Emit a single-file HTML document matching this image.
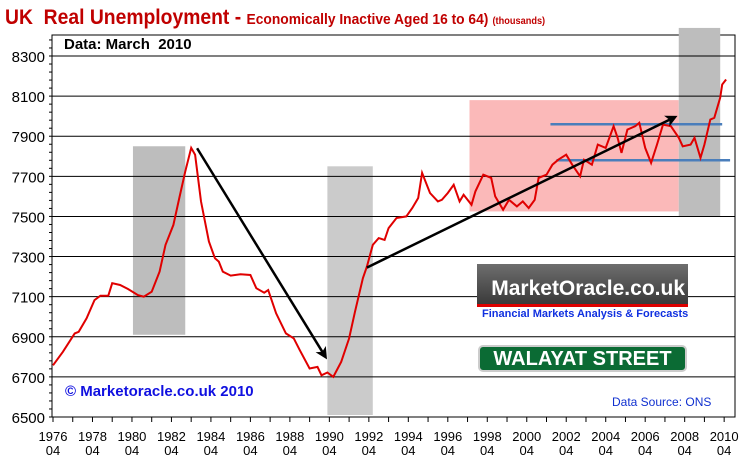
<!DOCTYPE html>
<html><head><meta charset="utf-8"><style>
body{margin:0;background:#fff;width:744px;height:465px;overflow:hidden}
svg{display:block;font-family:"Liberation Sans",sans-serif}
</style></head><body>
<svg id="c" width="744" height="465"></svg>
<script>
const years=[1976.0,1976.5,1977.1,1977.3,1977.7,1978.1,1978.4,1978.8,1979.0,1979.4,1979.8,1980.3,1980.6,1981.0,1981.4,1981.7,1982.1,1982.4,1982.7,1983.0,1983.2,1983.5,1983.9,1984.2,1984.4,1984.6,1985.0,1985.5,1986.0,1986.3,1986.7,1986.9,1987.3,1987.8,1988.2,1988.5,1989.0,1989.4,1989.6,1989.9,1990.2,1990.6,1991.0,1991.3,1991.7,1991.9,1992.2,1992.5,1992.8,1993.0,1993.4,1993.9,1994.2,1994.5,1994.7,1995.1,1995.5,1995.7,1996.0,1996.3,1996.6,1996.8,1997.2,1997.4,1997.8,1998.2,1998.4,1998.8,1999.1,1999.5,1999.8,2000.1,2000.4,2000.6,2001.0,2001.3,2001.6,2002.0,2002.3,2002.7,2002.9,2003.3,2003.6,2004.0,2004.4,2004.6,2004.8,2005.1,2005.5,2005.7,2006.0,2006.3,2006.6,2006.9,2007.3,2007.7,2007.9,2008.3,2008.5,2008.8,2009.0,2009.3,2009.5,2009.8,2009.9,2010.1];
const values=[6758,6825,6917,6925,6992,7083,7105,7105,7167,7158,7138,7108,7100,7125,7225,7358,7458,7592,7725,7842,7808,7575,7375,7292,7275,7225,7205,7212,7208,7142,7120,7133,7017,6917,6892,6833,6742,6750,6708,6722,6700,6775,6892,7025,7192,7250,7358,7392,7383,7442,7492,7500,7542,7592,7717,7617,7575,7583,7617,7658,7575,7608,7558,7625,7708,7692,7600,7533,7583,7550,7575,7542,7583,7692,7708,7758,7783,7808,7758,7700,7783,7758,7858,7842,7950,7892,7817,7933,7950,7967,7842,7767,7858,7958,7950,7892,7850,7858,7892,7792,7858,7983,7992,8092,8158,8183];
const yTicks=[6500,6700,6900,7100,7300,7500,7700,7900,8100,8300];
const xTickYears=[1976,1978,1980,1982,1984,1986,1988,1990,1992,1994,1996,1998,2000,2002,2004,2006,2008,2010];
const shadeBoxes=[[1980.05,1982.7,7850,6910],[1989.9,1992.2,7750,6510],[2007.7,2009.8,8440,7500]];
const pinkBox=[1997.1,2007.7,8080,7525];
const hLines=[[2001.2,2009.9,7960],[2001.5,2010.3,7780]];
const arrows=[[1983.3,7840,1989.8,6800],[1991.9,7245,2007.5,7995]];

const S='http://www.w3.org/2000/svg',svg=document.getElementById('c');
const X=t=>53+(t-1976)*19.74, Y=v=>56+(8300-v)*361/1800;
const L=52,R=735,T=35,B=417;
function el(tag,a,txt){const e=document.createElementNS(S,tag);for(const k in a)e.setAttribute(k,a[k]);if(txt!==undefined)e.textContent=txt;svg.appendChild(e);return e;}

let e=el('rect',{x:L,y:T,width:R-L,height:B-T,fill:'#fff',stroke:'#000','stroke-width':1});

e=el('rect',{x:X(pinkBox[0]),y:Y(pinkBox[2]),width:X(pinkBox[1])-X(pinkBox[0]),height:Y(pinkBox[3])-Y(pinkBox[2]),fill:'#fbb9b9'});

shadeBoxes.forEach((b,i)=>{const r=el('rect',{x:X(b[0]),y:Y(b[2]),width:X(b[1])-X(b[0]),height:Y(b[3])-Y(b[2]),fill:i==1?'#cbcbcb':'#bdbdbd'});
});
yTicks.forEach(v=>{const g=el('line',{x1:L,x2:R,y1:Y(v),y2:Y(v),stroke:'#000','stroke-width':1});

const t=el('text',{x:45,y:Y(v)+6,'text-anchor':'end','font-size':15,fill:'#000'},v);
});
for(let v=6500;v<8400;v+=40){const m=el('line',{x1:L-3,x2:L,y1:Y(v),y2:Y(v),stroke:'#000'});}
for(let y=1976;y<=2010;y++){const m=el('line',{x1:X(y),x2:X(y),y1:B,y2:B+5,stroke:'#000'});}
xTickYears.forEach(y=>{const t=el('text',{x:X(y),y:441,'text-anchor':'middle','font-size':13,fill:'#000'},y);

const t2=el('text',{x:X(y),y:455,'text-anchor':'middle','font-size':13,fill:'#000'},'04');
});
hLines.forEach(h=>{const l=el('line',{x1:X(h[0]),x2:X(h[1]),y1:Y(h[2]),y2:Y(h[2]),stroke:'#4a7ebb','stroke-width':2.5});});
const p=el('polyline',{points:years.map((y,i)=>X(y).toFixed(1)+','+Y(values[i]).toFixed(1)).join(' '),fill:'none',stroke:'#e00000','stroke-width':2});

const defs=el('defs',{});defs.innerHTML='<marker id="ah" markerWidth="12" markerHeight="12" refX="9" refY="6" orient="auto" markerUnits="userSpaceOnUse"><path d="M0,0 L12,6 L0,12 L3,6 z" fill="#000"/></marker>';
arrows.forEach(a=>{const l=el('line',{x1:X(a[0]),y1:Y(a[1]),x2:X(a[2]),y2:Y(a[3]),stroke:'#000','stroke-width':2.5,'marker-end':'url(#ah)'});});
</script>
<div style="position:absolute;left:0;top:0;width:744px;height:465px;pointer-events:none;font-family:'Liberation Sans',sans-serif">
<div style="position:absolute;left:5px;top:6px;color:#c00000;font-weight:bold;white-space:nowrap;transform:scaleX(0.92);transform-origin:left top"><span style="font-size:21px">UK&nbsp; Real Unemployment - </span><span style="font-size:15px">Economically Inactive Aged 16 to 64)</span> <span style="font-size:10px">(thousands)</span></div>
<div style="position:absolute;left:64px;top:36px;font-size:15px;font-weight:bold">Data: March&nbsp; 2010</div>
<div style="position:absolute;left:65px;top:383px;font-size:15px;font-weight:bold;color:#1010e0">© Marketoracle.co.uk 2010</div>
<div style="position:absolute;left:612px;top:395px;font-size:12px;color:#1030d0">Data Source: ONS</div>
<div style="position:absolute;left:477px;top:264px;width:211px;height:43px;background:linear-gradient(#6e6e6e,#3a3a3a);border-bottom:3px solid #d00;color:#fff;font-size:21px;font-weight:bold;line-height:50px;text-align:right;padding-right:3px;box-sizing:border-box">MarketOracle.co.uk</div>
<div style="position:absolute;left:482px;top:308px;font-size:11px;font-weight:bold;color:#1030e0">Financial Markets Analysis &amp; Forecasts</div>
<div style="position:absolute;left:478px;top:345px;width:209px;height:27px;background:#0b6b34;border:2px solid #ccc;border-radius:5px;box-sizing:border-box;color:#fff;font-size:20px;font-weight:bold;line-height:24px;text-align:center">WALAYAT STREET <span style="font-size:10px">.COM</span></div>
</div>
</body></html>
